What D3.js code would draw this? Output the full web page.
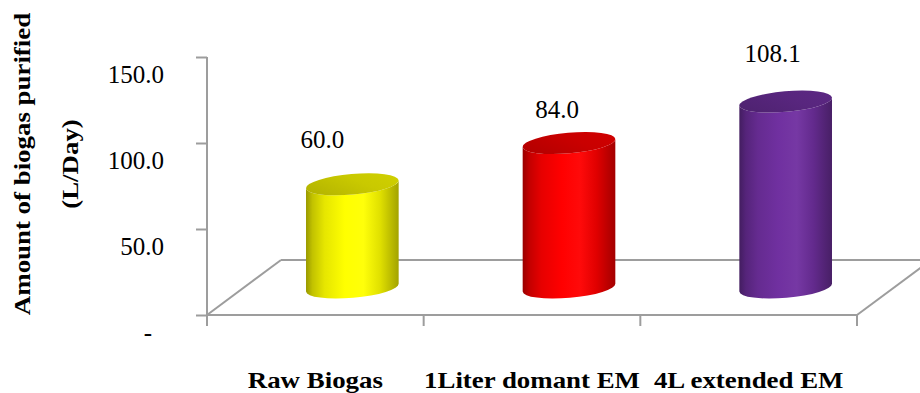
<!DOCTYPE html>
<html>
<head>
<meta charset="utf-8">
<script src="https://cdn.jsdelivr.net/npm/d3@7"></script>
<style>
  html, body { margin: 0; padding: 0; background: #ffffff; }
  svg { display: block; }
</style>
</head>
<body>
<svg id="chart" width="920" height="393"></svg>
<script>
// Biogas purification per treatment (L/Day)
const categories = ["Raw Biogas", "1Liter domant EM", "4L extended EM"];
const values = [60.0, 84.0, 108.1];
const valueLabels = ["60.0", "84.0", "108.1"];
const barColors = ["#ffff00", "#ff0000", "#7030a0"];
const tickValues = [0, 50, 100, 150];
const tickLabels = ["-", "50.0", "100.0", "150.0"];
const yTitleLines = ["Amount of biogas purified", "(L/Day)"];

// Layout
const plot = { left: 207, right: 857, bottom: 315, top: 57 };
const depth = { dx: 74, dy: -55 };           // front-to-back floor offset
const mid = { dx: depth.dx / 2, dy: depth.dy / 2 };
const cyl = { rx: 46.5, ry: 10.3, tilt: -5 }; // cylinder cross-section
const labelNudge = [[-30, -36], [-12, -25], [-13, -40]];
const axisColor = "#9d9d9d";

const svg = d3.select("#chart");

const x = d3.scaleBand().domain(categories).range([plot.left, plot.right]).padding(0);
const y = d3.scaleLinear().domain([0, 150]).range([plot.bottom, plot.top]);

// Floor outline (3D base)
const floor = svg.append("g")
  .attr("fill", "none").attr("stroke", axisColor).attr("stroke-width", 2);
floor.append("line")
  .attr("x1", plot.left + depth.dx).attr("y1", plot.bottom + depth.dy)
  .attr("x2", plot.right + depth.dx).attr("y2", plot.bottom + depth.dy);
floor.append("line")
  .attr("x1", plot.left).attr("y1", plot.bottom)
  .attr("x2", plot.left + depth.dx).attr("y2", plot.bottom + depth.dy);
floor.append("line")
  .attr("x1", plot.right).attr("y1", plot.bottom)
  .attr("x2", plot.right + depth.dx).attr("y2", plot.bottom + depth.dy);

// Value axis
const yAxis = svg.append("g")
  .attr("transform", `translate(${plot.left},0)`)
  .call(d3.axisLeft(y).tickValues(tickValues).tickSize(11).tickSizeOuter(0).tickPadding(32)
    .tickFormat((d, i) => tickLabels[i]));
yAxis.select(".domain").remove();
yAxis.selectAll(".tick line").attr("stroke", axisColor).attr("stroke-width", 2);
yAxis.selectAll(".tick text")
  .attr("fill", "#000")
  .attr("font-family", "'Liberation Serif', 'Times New Roman', serif")
  .attr("font-size", 25)
  .attr("dy", null)
  .attr("y", 25);
yAxis.selectAll(".tick text").filter(d => d === 0).attr("x", -55);
svg.append("line")
  .attr("x1", plot.left).attr("x2", plot.left)
  .attr("y1", plot.top).attr("y2", plot.bottom + 11)
  .attr("stroke", axisColor).attr("stroke-width", 2);

// Category axis (front edge of the floor)
svg.append("line")
  .attr("x1", plot.left).attr("x2", plot.right)
  .attr("y1", plot.bottom).attr("y2", plot.bottom)
  .attr("stroke", axisColor).attr("stroke-width", 2);
const edges = categories.map(c => x(c)).concat([x.range()[1]]);
svg.append("g").selectAll("line").data(edges).join("line")
  .attr("x1", d => d).attr("x2", d => d)
  .attr("y1", plot.bottom).attr("y2", plot.bottom + 11)
  .attr("stroke", axisColor).attr("stroke-width", 2);

svg.append("g").selectAll("text").data(categories).join("text")
  .attr("transform", d => `translate(${x(d) + x.bandwidth() / 2},388) scale(1.12,1)`)
  .attr("text-anchor", "middle")
  .attr("font-family", "'Liberation Serif', 'Times New Roman', serif")
  .attr("font-weight", "bold")
  .attr("font-size", 24)
  .attr("fill", "#000")
  .text(d => d);

// Axis title
const titleX = [30, 78];
svg.append("g").selectAll("text").data(yTitleLines).join("text")
  .attr("transform", (d, i) => `translate(${titleX[i]},164) rotate(-90) scale(1.12,1)`)
  .attr("text-anchor", "middle")
  .attr("font-family", "'Liberation Serif', 'Times New Roman', serif")
  .attr("font-weight", "bold")
  .attr("font-size", 24)
  .attr("fill", "#000")
  .text(d => d);

// Cylinder shading
function shade(base, t) {
  return t >= 0 ? d3.interpolateRgb(base, "#000")(t) : d3.interpolateRgb(base, "#fff")(-t);
}
const bodyStops = [[0, 0.40], [0.07, 0.24], [0.2, 0.1], [0.42, 0], [0.62, -0.04], [0.8, 0.12], [0.93, 0.28], [1, 0.36]];
const defs = svg.append("defs");
barColors.forEach((c, i) => {
  const g = defs.append("linearGradient").attr("id", `body${i}`)
    .attr("x1", 0).attr("x2", 1).attr("y1", 0).attr("y2", 0);
  g.selectAll("stop").data(bodyStops).join("stop")
    .attr("offset", d => d[0]).attr("stop-color", d => shade(c, d[1]));
  const t = defs.append("linearGradient").attr("id", `top${i}`)
    .attr("x1", 0).attr("x2", 1).attr("y1", 0.7).attr("y2", 0.3);
  t.append("stop").attr("offset", 0).attr("stop-color", shade(c, 0.3));
  t.append("stop").attr("offset", 0.6).attr("stop-color", shade(c, 0.21));
  t.append("stop").attr("offset", 1).attr("stop-color", shade(c, 0.19));
});

const rad = cyl.tilt * Math.PI / 180;
const ex = cyl.rx * Math.cos(rad), ey = cyl.rx * Math.sin(rad);

const bars = svg.append("g").selectAll("g").data(values).join("g");
bars.each(function (v, i) {
  const g = d3.select(this);
  const cx = x(categories[i]) + x.bandwidth() / 2 + mid.dx;
  const yb = y(0) + mid.dy;
  const yt = y(v) + mid.dy;
  const arc = (sweep, px, py) => `A${cyl.rx},${cyl.ry} ${cyl.tilt} 0 ${sweep} ${px},${py}`;
  const d = `M${cx - ex},${yt - ey} L${cx - ex},${yb - ey} ` +
    arc(0, cx + ex, yb + ey) + ` L${cx + ex},${yt + ey} ` +
    arc(1, cx - ex, yt - ey) + "Z";
  g.append("path").attr("d", d).attr("fill", `url(#body${i})`);
  g.append("ellipse")
    .attr("cx", 0).attr("cy", 0).attr("rx", cyl.rx).attr("ry", cyl.ry)
    .attr("transform", `translate(${cx},${yt}) rotate(${cyl.tilt})`)
    .attr("fill", `url(#top${i})`);
  g.append("text")
    .attr("x", cx + labelNudge[i][0]).attr("y", yt + labelNudge[i][1])
    .attr("text-anchor", "middle")
    .attr("font-family", "'Liberation Serif', 'Times New Roman', serif")
    .attr("font-size", 25)
    .attr("fill", "#000")
    .text(valueLabels[i]);
});
</script>
</body>
</html>
